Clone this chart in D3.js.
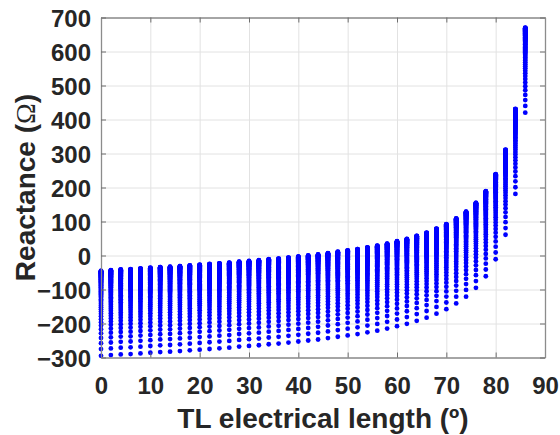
<!DOCTYPE html>
<html>

<head>
    <meta charset="utf-8">
    <script src="https://d3js.org/d3.v7.min.js"></script>
    <style>
        body {
            margin: 0;
            background: #fff;
        }

        .tick text {
            font-family: 'Liberation Sans', Arial, sans-serif;
            font-weight: bold;
            font-size: 24px;
            fill: #262626;
        }

        .axis-label {
            font-family: 'Liberation Sans', Arial, sans-serif;
            font-weight: bold;
            font-size: 28px;
            fill: #262626;
        }
    </style>
</head>

<body>
    <svg id="chart" width="560" height="435"></svg>

    <script>
        // electrical length of each column (degrees)
        const lengths = [0, 2, 4, 6, 8, 10, 12, 14, 16, 18, 20, 22, 24, 26, 28, 30, 32, 34, 36, 38, 40, 42,
            44, 46, 48, 50, 52, 54, 56, 58, 60, 62, 64, 66, 68, 70, 72, 74, 76, 78, 80, 82, 84, 86];

        // top reactance of each column (ohm)
        const colTop = [-45, -43, -41, -40, -38, -36, -34, -33, -31, -29, -27, -25, -23, -21, -18, -16, -14, -11, -9, -6, -3, 0,
            3, 7, 11, 15, 19, 24, 29, 35, 42, 49, 58, 67, 79, 92, 109, 129, 155, 189, 239, 311, 431, 670];

        // position of every dot below the column top (ohm), same in each column
        const stackOffsets = [-250, -230.2, -212.9, -197.6, -184, -171.9, -161, -151.1, -142.2, -134, -126.5, -119.6,
            -113.3, -107.4, -101.9, -96.8, -92.1, -87.6, -83.5, -79.6, -75.9, -72.4, -69.2, -66.1, -63.1, -60.4, -57.7,
            -55.2, -52.8, -50.5, -48.4, -46.3, -44.3, -42.4, -40.6, -38.8, -37.1, -35.5, -34, -32.5, -31, -29.6, -28.3,
            -27, -25.8, -24.6, -23.4, -22.3, -21.2, -20.1, -19.1, -18.1, -17.2, -16.3, -15.4, -14.5, -13.6, -12.8, -12,
            -11.2, -10.5, -9.7, -9, -8.3, -7.6, -6.9, -6.3, -5.7, -5, -4.4, -3.8, -3.3, -2.7, -2.2, -1.6, -1.1, -0.6, 0];

        const xTicks = [0, 10, 20, 30, 40, 50, 60, 70, 80, 90];
        const yTicks = [-300, -200, -100, 0, 100, 200, 300, 400, 500, 600, 700];

        var margin = { top: 17.5, right: 15, bottom: 77.5, left: 101 },
            width = 560 - margin.left - margin.right,
            height = 435 - margin.top - margin.bottom;

        const svg = d3.select("#chart");
        const g = svg.append("g")
            .attr("transform", "translate(" + margin.left + "," + margin.top + ")");

        var x = d3.scaleLinear().domain([0, 90]).range([0, width]);
        var y = d3.scaleLinear().domain([-300, 700]).range([height, 0]);

        // grid
        g.append("g")
            .attr("transform", "translate(0," + height + ")")
            .call(d3.axisBottom(x).tickValues(xTicks).tickSize(-height).tickFormat(""))
            .call(s => s.select(".domain").remove())
            .call(s => s.selectAll("line").attr("stroke", "#e2e2e2"));
        g.append("g")
            .call(d3.axisLeft(y).tickValues(yTicks).tickSize(-width).tickFormat(""))
            .call(s => s.select(".domain").remove())
            .call(s => s.selectAll("line").attr("stroke", "#e2e2e2"));

        // dots
        var points = [];
        lengths.forEach((len, i) => {
            stackOffsets.forEach(off => {
                points.push({ len: len, react: colTop[i] + off });
            });
        });

        g.append("g")
            .selectAll("circle")
            .data(points)
            .enter()
            .append("circle")
            .attr("cx", d => x(d.len))
            .attr("cy", d => y(d.react))
            .attr("r", 2.4)
            .attr("fill", "#0000ff");

        // axes, ticks pointing inward
        function styleAxis(s) {
            s.select(".domain").attr("stroke", "#8c8c8c").attr("stroke-width", 1.3);
            s.selectAll(".tick line").attr("stroke", "#6e6e6e");
        }

        g.append("g")
            .attr("transform", "translate(0," + height + ")")
            .call(d3.axisBottom(x).tickValues(xTicks).tickSizeInner(-5).tickSizeOuter(0).tickPadding(19))
            .call(styleAxis);
        g.append("g")
            .call(d3.axisTop(x).tickValues(xTicks).tickSizeInner(-5).tickSizeOuter(0).tickFormat(""))
            .call(styleAxis);
        g.append("g")
            .call(d3.axisLeft(y).tickValues(yTicks).tickSizeInner(-5).tickSizeOuter(0).tickPadding(10))
            .call(styleAxis)
            .call(s => s.selectAll(".tick text").attr("dy", "0.36em"));
        g.append("g")
            .attr("transform", "translate(" + width + ",0)")
            .call(d3.axisRight(y).tickValues(yTicks).tickSizeInner(-5).tickSizeOuter(0).tickFormat(""))
            .call(styleAxis);

        // axis labels
        svg.append("text")
            .attr("class", "axis-label")
            .attr("x", margin.left + width / 2)
            .attr("y", 428)
            .attr("text-anchor", "middle")
            .text("TL electrical length (º)");

        const yl = svg.append("text")
            .attr("class", "axis-label")
            .attr("transform", "translate(35," + (margin.top + height / 2) + ") rotate(-90)")
            .attr("text-anchor", "middle");
        yl.append("tspan").text("Reactance (");
        yl.append("tspan")
            .style("font-family", "'Liberation Serif', serif")
            .style("font-weight", "normal")
            .text("Ω");
        yl.append("tspan").text(")");
    </script>
</body>

</html>
